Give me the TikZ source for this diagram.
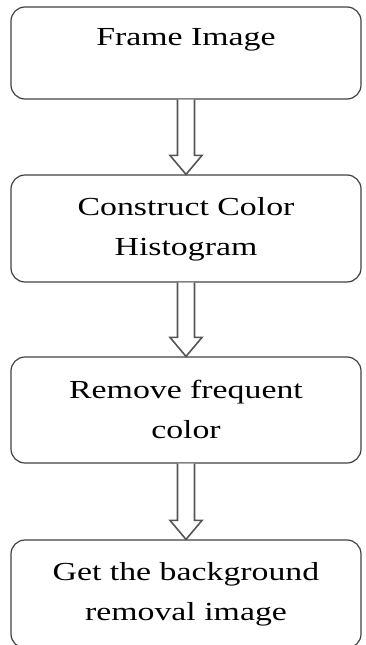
\documentclass[tikz,border=0pt]{standalone}
\usepackage{fontspec}
\setmainfont{Liberation Serif}[FakeStretch=1.3]
\usetikzlibrary{calc}
\definecolor{boxgray}{HTML}{404040}
\definecolor{arrowgray}{HTML}{555555}
\begin{document}
\begin{tikzpicture}[x=1pt,y=-1pt,
  box/.style={draw=boxgray, line width=1.2pt, rounded corners=14pt, minimum width=350pt, inner sep=0pt},
  lbl/.style={anchor=base, font=\fontsize{26}{40}\selectfont, align=center, inner sep=0pt},
  hollow/.style={draw=arrowgray, line width=1.6pt, fill=white, line join=miter}]
\clip (0,0) rectangle (366,645);
% boxes
\node[box, minimum height=92pt]  (b1) at (186,53)    {};
\node[box, minimum height=107pt] (b2) at (186,228.5) {};
\node[box, minimum height=106pt] (b3) at (186,410)   {};
\node[box, minimum height=108pt] (b4) at (186,594)   {};
% labels (base anchor = baseline of the last line)
\node[lbl] (t1) at (186,45)  {Frame Image};
\node[lbl] (t2) at (186,255) {Construct Color\\Histogram};
\node[lbl] (t3) at (186,438) {Remove frequent\\color};
\node[lbl] (t4) at (186,620) {Get the background\\removal image};
% hollow block arrows
\foreach \a/\b in {b1/b2, b2/b3, b3/b4}{
  \draw[hollow] ($(\a.south)+(-8.5,0)$) -- ($(\b.north)+(-8.5,-19)$) -- ($(\b.north)+(-16,-19)$)
    -- (\b.north) -- ($(\b.north)+(16,-19)$) -- ($(\b.north)+(8.5,-19)$) -- ($(\a.south)+(8.5,0)$);
}
\end{tikzpicture}
\end{document}
